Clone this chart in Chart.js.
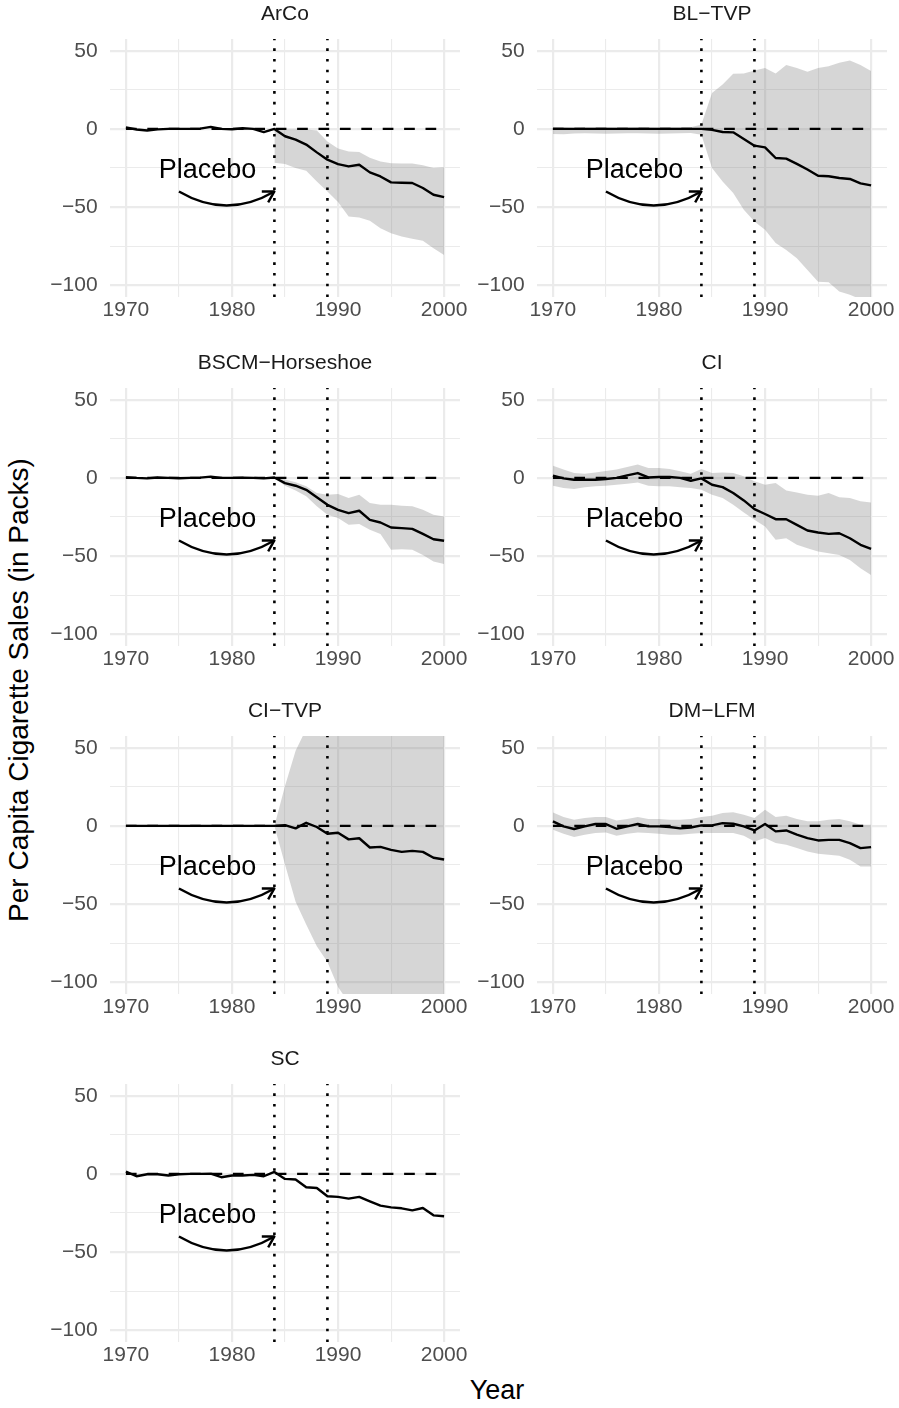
<!DOCTYPE html>
<html>
<head>
<meta charset="utf-8">
<script src="https://cdn.jsdelivr.net/npm/chart.js@4.4.0/dist/chart.umd.min.js"></script>
<style>
html,body{margin:0;padding:0;background:#fff;}
body{width:899px;height:1408px;position:relative;overflow:hidden;font-family:"Liberation Sans",Arial,sans-serif;}
canvas{position:absolute;}
#ytitle{position:absolute;left:19px;top:690px;transform:translate(-50%,-50%) rotate(-90deg);font-size:28px;color:#000;white-space:nowrap;}
#xtitle{position:absolute;left:497px;top:1390px;transform:translate(-50%,-50%);font-size:27px;color:#000;white-space:nowrap;}
</style>
</head>
<body>
<div id="ytitle">Per Capita Cigarette Sales (in Packs)</div>
<div id="xtitle">Year</div>
<script>
// ---------------- data ----------------
const years = [1970,1971,1972,1973,1974,1975,1976,1977,1978,1979,1980,1981,1982,1983,1984,1985,1986,1987,1988,1989,1990,1991,1992,1993,1994,1995,1996,1997,1998,1999,2000];
const xTickLabels = [1970, 1980, 1990, 2000];
const yTickLabels = [-100, -50, 0, 50];
const treatmentYears = [1984, 1989];
const panelNames = ['ArCo', 'BL\u2212TVP', 'BSCM\u2212Horseshoe', 'CI', 'CI\u2212TVP', 'DM\u2212LFM', 'SC'];

const arcoGap   = [1,-0.4,-1,-0.3,0,0,0,0.2,1.3,0,-0.2,0.4,0,-2,0,-4.7,-6.9,-10,-15,-19.7,-22.5,-24,-22.9,-27.8,-30.4,-34.2,-34.4,-34.6,-37.8,-42.1,-43.6];
const arcoUpper = [null,null,null,null,null,null,null,null,null,null,null,null,null,null,0,-0.3,-0.4,-0.4,-1,-8,-12.5,-14.5,-14.8,-18.5,-20.8,-22,-22.2,-22.2,-23.2,-25,-24.6];
const arcoLower = [null,null,null,null,null,null,null,null,null,null,null,null,null,null,-21.6,-22.5,-25,-26.7,-33.6,-40,-46.8,-56,-56.6,-58.8,-63.5,-66.7,-68.8,-70.3,-71.6,-76.3,-80.6];

const bltvpGap   = [0,0,0,0,0,0,0,0,0,0,0,0,0,0,0,-0.6,-2,-2.2,-6.4,-10.7,-11.8,-18.6,-19,-22.4,-26,-30,-30.3,-31.4,-32,-34.8,-36.1];
const bltvpUpper = [1.2,1.0,0.8,1.0,1.1,1.0,0.9,1.0,1.2,1.0,0.9,1.0,1.1,1.0,2.8,23,28.4,35.2,35.5,37.4,39,35.5,40.8,39,36.5,39,40.1,42.3,43.8,40.8,37];
const bltvpLower = [-3.2,-3.4,-3.0,-2.8,-2.9,-3.1,-3.0,-2.8,-2.7,-2.9,-3.1,-3.0,-2.8,-2.6,-3.7,-25,-33.6,-41,-51.7,-59.2,-64.5,-73,-77.4,-82.7,-90.2,-97.7,-98,-104,-106,-109,-112];

const bscmGap   = [0.5,0,-0.3,0.3,0,-0.2,0,0.2,0.8,0,0,0.2,0,-0.3,0.3,-3.3,-5,-7.6,-12.3,-17.2,-20.4,-22.5,-21,-26.8,-28.5,-31.7,-32.1,-32.6,-35.8,-39.2,-40.2];
const bscmUpper = [null,null,null,null,null,null,null,null,null,null,null,null,null,null,0,-1,-2.7,-5.4,-9.7,-10.8,-10.3,-12.9,-10.8,-16.1,-17.2,-17.2,-17.8,-18.2,-20.4,-23.6,-24.7];
const bscmLower = [null,null,null,null,null,null,null,null,null,null,null,null,null,null,0,-5,-8,-11.8,-18.2,-23.6,-25.7,-30,-29.4,-33.2,-35.8,-46,-45.6,-46,-49.3,-53.5,-55];

const ciGap   = [1.4,-0.3,-1.2,-1.2,-1.2,-0.7,0,1.6,3.1,0.3,0.6,0.6,0,-1.8,-0.3,-4.4,-5.9,-9.7,-14.4,-20,-23.1,-26.4,-26.4,-30,-33.6,-34.9,-35.8,-35.4,-38.6,-42.8,-45.4];
const ciUpper = [7.8,5.3,3.1,2.7,3.5,4.4,5.3,7,8.5,6.3,6.3,5.7,4.2,2.7,5.7,3.1,3.5,3.1,1,-2.2,-4.4,-3.3,-8,-9.3,-10.8,-11.4,-9.7,-12.3,-12.9,-15,-15.7];
const ciLower = [-5,-6.5,-7.1,-5.9,-5.4,-5,-4.4,-3.7,-2.9,-5,-5.4,-5.4,-5.9,-6.5,-7.6,-10.8,-12.9,-17.2,-22.1,-26.8,-31.1,-39.6,-38.6,-42.8,-45,-47.1,-48.2,-49.3,-52.5,-57.8,-62.1];

const citvpGap   = [0,0,0,0,0,0,0,0,0,0,0,0,0,0,0,0.5,-1.6,2,-0.7,-5,-4.4,-8.6,-7.9,-13.8,-13.4,-15.3,-16.6,-16,-16.6,-20.4,-21.5];
const citvpUpper = [null,null,null,null,null,null,null,null,null,null,null,null,null,null,0,25.5,48,62,77,88,102,112,118,124,129,134,138,142,146,150,154];
const citvpLower = [null,null,null,null,null,null,null,null,null,null,null,null,null,null,0,-24.7,-48.5,-63,-77,-87,-103,-113,-119,-125,-130,-135,-139,-143,-147,-151,-155];

const dmlfmGap   = [2.9,-0.3,-2,-0.3,1.2,1.2,-1.8,-0.3,1.2,-0.3,-0.3,-0.7,-1.6,-1,0.3,0.3,1.8,1.4,-0.3,-2.9,1.2,-3.5,-2.9,-5.6,-7.8,-9.3,-8.9,-8.9,-11,-14.2,-13.6];
const dmlfmUpper = [8.6,5.7,4,5,5.7,5.7,3.5,4.4,5.7,4.4,4.4,4,4,4.4,5.7,6.5,8.2,8.7,7.2,5,10.4,5.7,6.5,4.4,2.9,2.9,4,4.4,2.9,0.8,0.8];
const dmlfmLower = [-2.5,-5,-7.1,-5.6,-4.6,-4.2,-6.3,-5,-4.2,-4.6,-5,-5.6,-5.6,-5,-4.6,-4.6,-4.6,-4.6,-6.3,-9.9,-7.8,-11,-12,-14.2,-16.3,-17.8,-18.5,-19.1,-21.7,-26,-26];

const scGap = [1.5,-1.5,-0.2,-0.2,-1,-0.2,0,0,0.2,-2.1,-1,-1,-0.6,-1.5,1.3,-3.2,-3.6,-8.5,-9,-14.3,-14.7,-15.8,-14.7,-17.5,-20.3,-21.4,-22,-23.3,-21.8,-26.5,-27.1];

const placeboLabel = {text: 'Placebo', x: 1977.7, y: -25};
const placeboArrow = {fromX: 1975, fromY: -40, toX: 1984, toY: -40};

// ---------------- layout / style ----------------
const FONT = '"Liberation Sans", Arial, sans-serif';
Chart.defaults.font.family = FONT;
const X_MIN = 1968.5, X_MAX = 2001.5, Y_MIN = -107.5, Y_MAX = 57.5;
const colLeft = [0, 427], colWidth = [470, 472], colRightPad = [10, 12];
const rowTop = [39, 388, 736, 1084];
const STRIP_H = 39, PLOT_H = 258, XAXIS_H = 45;
const GRID = '#EBEBEB';
const RIBBON = 'rgba(128,128,128,0.32)';

const panels = [
  {name: panelNames[0], gap: arcoGap,  upper: arcoUpper,  lower: arcoLower},
  {name: panelNames[1], gap: bltvpGap, upper: bltvpUpper, lower: bltvpLower},
  {name: panelNames[2], gap: bscmGap,  upper: bscmUpper,  lower: bscmLower},
  {name: panelNames[3], gap: ciGap,    upper: ciUpper,    lower: ciLower},
  {name: panelNames[4], gap: citvpGap, upper: citvpUpper, lower: citvpLower},
  {name: panelNames[5], gap: dmlfmGap, upper: dmlfmUpper, lower: dmlfmLower},
  {name: panelNames[6], gap: scGap,    upper: null,       lower: null}
];

const placeboPlugin = {
  id: 'placebo',
  afterDatasetsDraw(chart) {
    const {ctx} = chart, x = chart.scales.x, y = chart.scales.y;
    ctx.save();
    const fs = 27;
    ctx.fillStyle = '#000';
    ctx.font = fs + 'px ' + FONT;
    ctx.textAlign = 'center';
    ctx.textBaseline = 'alphabetic';
    ctx.fillText(placeboLabel.text, x.getPixelForValue(placeboLabel.x), y.getPixelForValue(placeboLabel.y) + 0.358 * fs);
    const x0 = x.getPixelForValue(placeboArrow.fromX), y0 = y.getPixelForValue(placeboArrow.fromY);
    const x1 = x.getPixelForValue(placeboArrow.toX), y1 = y.getPixelForValue(placeboArrow.toY);
    const cx = (x0 + x1) / 2, cy = (y0 + y1) / 2 + 28;
    ctx.strokeStyle = '#000';
    ctx.lineWidth = 2.4;
    ctx.lineCap = 'butt';
    ctx.lineJoin = 'round';
    ctx.beginPath();
    ctx.moveTo(x0, y0);
    ctx.quadraticCurveTo(cx, cy, x1, y1);
    ctx.stroke();
    const ang = Math.atan2(y1 - cy, x1 - cx), L = 12.6, a = Math.PI / 6;
    ctx.beginPath();
    ctx.moveTo(x1 - L * Math.cos(ang - a), y1 - L * Math.sin(ang - a));
    ctx.lineTo(x1, y1);
    ctx.lineTo(x1 - L * Math.cos(ang + a), y1 - L * Math.sin(ang + a));
    ctx.stroke();
    ctx.restore();
  }
};

function pts(arr) {
  return years.map((yr, k) => ({x: yr, y: arr[k]})).filter(d => d.y !== null);
}

function fmtNum(v) {
  return v < 0 ? '\u2212' + Math.abs(v) : String(v);
}

panels.forEach((p, i) => {
  const col = i % 2, row = Math.floor(i / 2);
  const W = colWidth[col], H = STRIP_H + PLOT_H + XAXIS_H;
  const cv = document.createElement('canvas');
  cv.width = W; cv.height = H;
  cv.style.left = colLeft[col] + 'px';
  cv.style.top = (rowTop[row] - STRIP_H) + 'px';
  cv.style.width = W + 'px'; cv.style.height = H + 'px';
  document.body.appendChild(cv);

  const datasets = [];
  treatmentYears.forEach((ty, k) => {
    datasets.push({label: 'treat' + k, data: [{x: ty, y: Y_MIN}, {x: ty, y: Y_MAX}],
      borderColor: '#000', borderWidth: 2.6, borderDash: [2.6, 8.1], order: 0});
  });
  datasets.push({label: 'gap', data: pts(p.gap), borderColor: '#000', borderWidth: 2.4,
    borderJoinStyle: 'round', order: 1});
  datasets.push({label: 'zero', data: [{x: years[0], y: 0}, {x: years[years.length - 1], y: 0}],
    borderColor: '#000', borderWidth: 2.4, borderDash: [10.7, 10.7], order: 2});
  if (p.upper) {
    datasets.push({label: 'upper', data: pts(p.upper), borderWidth: 0, borderColor: 'rgba(0,0,0,0)',
      backgroundColor: RIBBON, fill: '+1', order: 3});
    datasets.push({label: 'lower', data: pts(p.lower), borderWidth: 0, borderColor: 'rgba(0,0,0,0)',
      fill: false, order: 4});
  }

  new Chart(cv, {
    type: 'line',
    data: {datasets},
    plugins: [placeboPlugin],
    options: {
      responsive: false,
      animation: false,
      devicePixelRatio: 1,
      layout: {padding: {top: 0, left: 0, bottom: 0, right: colRightPad[col]}},
      elements: {point: {radius: 0}, line: {tension: 0}},
      plugins: {
        legend: {display: false},
        tooltip: {enabled: false},
        title: {display: true, text: p.name, fullSize: false, color: '#1A1A1A',
          font: {size: 21, lineHeight: 1.2, weight: 'normal'},
          padding: {top: 1.4, bottom: STRIP_H - 1.4 - 25.2}}
      },
      scales: {
        x: {
          type: 'linear', min: X_MIN, max: X_MAX,
          afterFit(s) { s.height = XAXIS_H; },
          border: {display: false},
          grid: {color: GRID, drawTicks: false,
            lineWidth: c => (c.tick && xTickLabels.includes(c.tick.value)) ? 2.2 : 1.1},
          ticks: {stepSize: 5, includeBounds: false, autoSkip: false, maxRotation: 0,
            padding: 1, color: '#4D4D4D', font: {size: 21},
            callback: v => xTickLabels.includes(v) ? String(v) : ''}
        },
        y: {
          type: 'linear', min: Y_MIN, max: Y_MAX,
          afterFit(s) { s.width = 110; },
          border: {display: false},
          grid: {color: GRID, drawTicks: false,
            lineWidth: c => (c.tick && yTickLabels.includes(c.tick.value)) ? 2.2 : 1.1},
          ticks: {stepSize: 25, includeBounds: false, autoSkip: false,
            padding: 12.4, color: '#4D4D4D', font: {size: 21},
            callback: v => yTickLabels.includes(v) ? fmtNum(v) : ''}
        }
      }
    }
  });
});
</script>
</body>
</html>
